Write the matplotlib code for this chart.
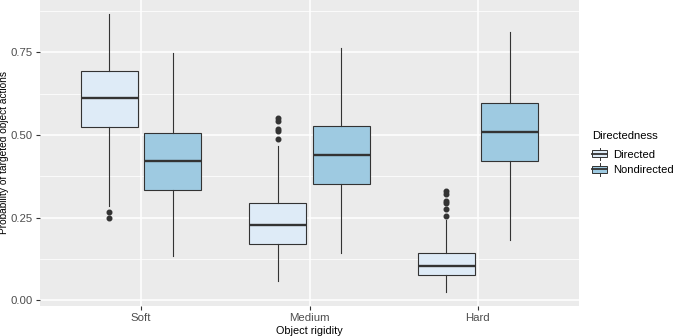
import matplotlib
matplotlib.use('Agg')
import matplotlib.pyplot as plt
from matplotlib.patches import Rectangle
from matplotlib.lines import Line2D
from matplotlib.legend_handler import HandlerBase

plt.rcParams['font.family'] = ['Liberation Sans', 'DejaVu Sans']

# data (box statistics)
categories = ['Soft', 'Medium', 'Hard']
groups = ['Directed', 'Nondirected']
colors = {'Directed': '#deebf7', 'Nondirected': '#9ecae1'}

dir_whislo = [0.284, 0.059, 0.025]
dir_q1 = [0.523, 0.171, 0.076]
dir_med = [0.613, 0.229, 0.105]
dir_q3 = [0.692, 0.295, 0.144]
dir_whishi = [0.866, 0.467, 0.243]
dir_fliers = [[0.268, 0.248],
              [0.552, 0.541, 0.518, 0.512, 0.489],
              [0.330, 0.321, 0.300, 0.293, 0.276, 0.256]]

non_whislo = [0.134, 0.144, 0.181]
non_q1 = [0.334, 0.352, 0.420]
non_med = [0.420, 0.440, 0.510]
non_q3 = [0.506, 0.527, 0.596]
non_whishi = [0.748, 0.764, 0.810]
non_fliers = [[], [], []]

EDGE = '#333333'


def make_stats(lo, q1, med, q3, hi, fl):
    return [dict(whislo=lo[i], q1=q1[i], med=med[i], q3=q3[i], whishi=hi[i],
                 fliers=fl[i]) for i in range(len(lo))]


class BoxKeyHandler(HandlerBase):
    # small boxplot glyph for the legend keys
    def create_artists(self, legend, orig_handle, xdescent, ydescent,
                       width, height, fontsize, trans):
        x0, w = -xdescent, width
        y0, h = -ydescent, height
        rect = Rectangle((x0 + 0.03 * w, y0 + 0.1 * h), 0.94 * w, 0.8 * h,
                         facecolor=orig_handle.get_facecolor(), edgecolor=EDGE,
                         lw=0.7, transform=trans)
        med = Line2D([x0 + 0.03 * w, x0 + 0.97 * w], [y0 + 0.5 * h] * 2,
                     color=EDGE, lw=1.3, transform=trans)
        wl = Line2D([x0 + 0.5 * w] * 2, [y0 - 0.2 * h, y0 + 0.1 * h],
                    color=EDGE, lw=0.7, transform=trans)
        wh = Line2D([x0 + 0.5 * w] * 2, [y0 + 0.9 * h, y0 + 1.2 * h],
                    color=EDGE, lw=0.7, transform=trans)
        return [rect, med, wl, wh]


fig = plt.figure(figsize=(6.76, 3.36), dpi=100)
ax = fig.add_axes([40 / 676, 1 - 306 / 336, 539 / 676, 306 / 336])
ax.set_facecolor('#EBEBEB')

pos = list(range(1, len(categories) + 1))
offset = 0.1875
bw = 0.3375

all_stats = {'Directed': make_stats(dir_whislo, dir_q1, dir_med, dir_q3, dir_whishi, dir_fliers),
             'Nondirected': make_stats(non_whislo, non_q1, non_med, non_q3, non_whishi, non_fliers)}

for k, g in enumerate(groups):
    p = [x + (k * 2 - 1) * offset for x in pos]
    ax.bxp(all_stats[g], positions=p, widths=bw, patch_artist=True,
           showcaps=False, manage_ticks=False,
           boxprops=dict(facecolor=colors[g], edgecolor=EDGE, lw=0.8),
           medianprops=dict(color=EDGE, lw=1.7, solid_capstyle='butt'),
           whiskerprops=dict(color=EDGE, lw=0.8),
           flierprops=dict(marker='o', markerfacecolor=EDGE, markeredgecolor=EDGE,
                           markersize=3.3, lw=0))

# limits like ggplot's expansion
lo_all = min(dir_whislo + non_whislo)
hi_all = max(dir_whishi + non_whishi)
pad = 0.05 * (hi_all - lo_all)
ax.set_ylim(lo_all - pad, hi_all + pad)
ax.set_xlim(0.4, len(categories) + 0.6)

ax.set_yticks([0, 0.25, 0.5, 0.75])
ax.set_yticklabels(['0.00', '0.25', '0.50', '0.75'])
ax.set_yticks([0.125, 0.375, 0.625, 0.875], minor=True)
ax.set_xticks(pos)
ax.set_xticklabels(categories)

ax.grid(True, which='major', color='white', lw=1.1)
ax.grid(True, which='minor', axis='y', color='white', lw=0.55)
ax.set_axisbelow(True)
for s in ax.spines.values():
    s.set_visible(False)
ax.tick_params(which='major', length=3, color='#333333', labelcolor='#4D4D4D',
               labelsize=8.2, pad=2)
ax.tick_params(which='minor', length=0)

ax.set_xlabel('Object rigidity', fontsize=7.8, labelpad=2)
ax.set_ylabel('Probability of targeted object actions', fontsize=7.3, labelpad=1.5)

handles = [Rectangle((0, 0), 1, 1, facecolor=colors[g]) for g in groups]
leg = ax.legend(handles, groups, title='Directedness', loc='upper left',
                bbox_to_anchor=(592 / 676, 1 - 131 / 336),
                bbox_transform=fig.transFigure, frameon=False, fontsize=8.1,
                title_fontsize=8.1, handler_map={Rectangle: BoxKeyHandler()},
                handlelength=1.4, handleheight=0.85, handletextpad=0.5,
                labelspacing=0.45, borderaxespad=0, borderpad=0)
leg._legend_box.align = 'left'
leg._legend_box.sep = 6

fig.savefig('out.png', dpi=100)
